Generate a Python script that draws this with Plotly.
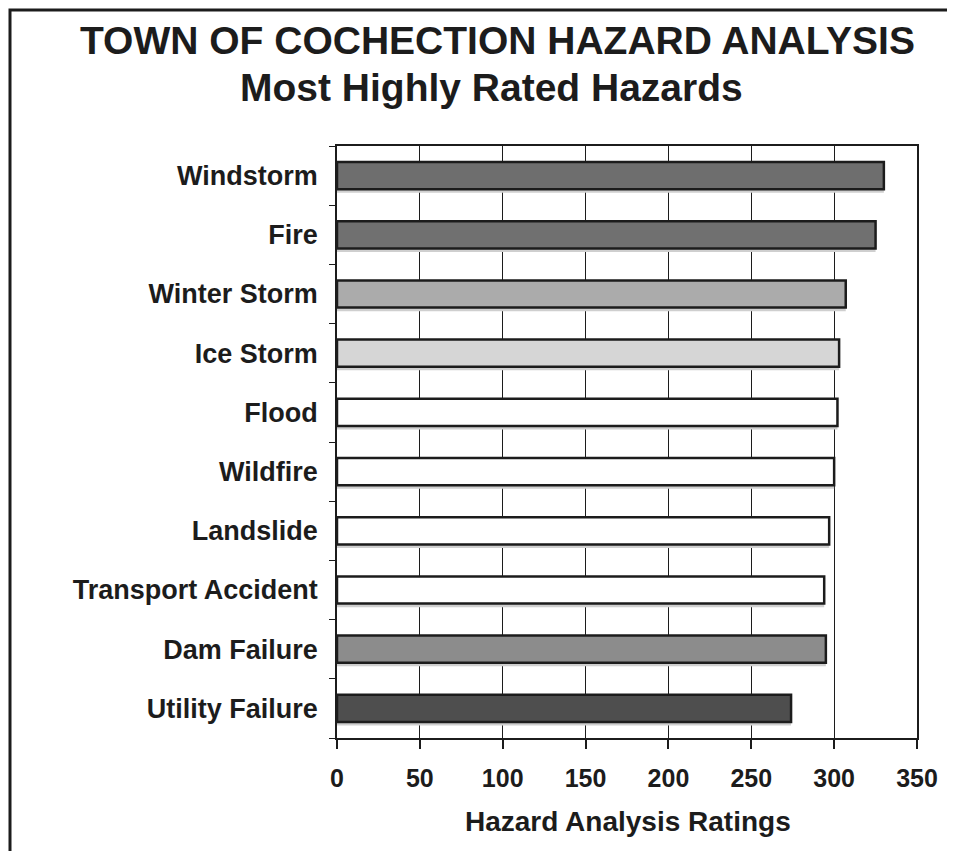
import plotly.graph_objects as go

hazards = ["Windstorm", "Fire", "Winter Storm", "Ice Storm", "Flood", "Wildfire",
           "Landslide", "Transport Accident", "Dam Failure", "Utility Failure"]
ratings = [330, 325, 307, 303, 302, 300, 297, 294, 295, 274]
bar_colors = ["#6e6e6e", "#707070", "#ababab", "#d6d6d6", "#ffffff", "#ffffff",
              "#ffffff", "#ffffff", "#8c8c8c", "#4e4e4e"]
x_ticks = [0, 50, 100, 150, 200, 250, 300, 350]

FONT = "Arial, 'Liberation Sans', sans-serif"
INK = "#1c1c1c"

# page geometry (the page body adds an 8px offset)
W, H, OFF = 947, 843, 8
PL, PR, PT, PB = 337, 917, 146, 738   # plot area in page pixels


def px(x):
    return (x - PL) / (PR - PL)


def py(y):
    return (PB - y) / (PB - PT)


BW = 0.46
fig = go.Figure()
# soft drop shadow below each bar
fig.add_trace(go.Bar(
    y=hazards, x=ratings, orientation="h",
    marker=dict(color="#cfcfcf", line=dict(width=0)),
    width=BW, offset=-BW / 2 + 0.06, showlegend=False, hoverinfo="skip",
))
fig.add_trace(go.Bar(
    y=hazards, x=ratings, orientation="h",
    marker=dict(color=bar_colors, line=dict(color=INK, width=2.5)),
    width=BW, offset=-BW / 2, showlegend=False,
))

fig.update_layout(
    width=W, height=H, barmode="overlay",
    margin=dict(l=PL - OFF, r=OFF + W - PR, t=PT - OFF, b=OFF + H - PB),
    paper_bgcolor="white", plot_bgcolor="white",
    font=dict(family=FONT, color=INK),
    annotations=[
        dict(text="<b>TOWN OF COCHECTION HAZARD ANALYSIS</b>", xref="paper", yref="paper",
             x=px(497), y=py(41), showarrow=False,
             font=dict(size=39, family=FONT), xanchor="center", yanchor="middle"),
        dict(text="<b>Most Highly Rated Hazards</b>", xref="paper", yref="paper",
             x=px(491), y=py(87), showarrow=False,
             font=dict(size=39, family=FONT), xanchor="center", yanchor="middle"),
        dict(text="<b>Hazard Analysis Ratings</b>", xref="paper", yref="paper",
             x=px(628), y=py(821), showarrow=False,
             font=dict(size=28, family=FONT), xanchor="center", yanchor="middle"),
    ],
    shapes=[
        dict(type="rect", xref="paper", yref="paper",
             x0=px(10), x1=px(980), y0=py(880), y1=py(10),
             line=dict(color=INK, width=3), fillcolor="rgba(0,0,0,0)", layer="below"),
    ],
)

fig.update_xaxes(
    range=[0, 350], tickvals=x_ticks, ticktext=[f"<b>{v}</b>" for v in x_ticks],
    showgrid=True, gridcolor=INK, gridwidth=1.2,
    showline=True, linecolor=INK, linewidth=1.5, mirror=True,
    ticks="outside", ticklen=9, tickcolor=INK, tickwidth=1.5,
    tickfont=dict(size=25, family=FONT), ticklabelstandoff=8, zeroline=False,
)
fig.update_yaxes(
    autorange="reversed", tickson="boundaries",
    ticktext=[f"<b>{h}</b>" for h in hazards], tickvals=hazards,
    showline=True, linecolor=INK, linewidth=1.5, mirror=True,
    ticks="outside", ticklen=6, tickcolor=INK,
    tickfont=dict(size=27, family=FONT), ticklabelstandoff=12,
    showgrid=False,
)

fig.write_html("out.html")
